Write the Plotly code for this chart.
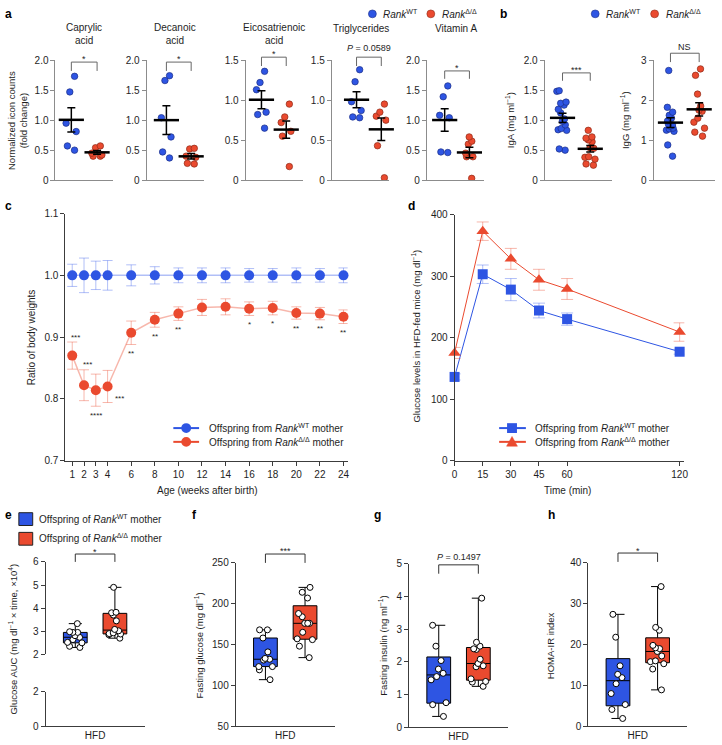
import numpy as np
import plotly.graph_objects as go

W, H = 722, 745
FONT = "Liberation Sans, Arial, Helvetica, sans-serif"
BLUE = "#2e55e3"
RED = "#ea4a2f"
BLUE_EDGE = "#1d2f86"
RED_EDGE = "#8e2b18"
BLUE_LIGHT = "rgba(60,95,235,0.40)"
RED_LIGHT = "rgba(234,74,47,0.40)"
GREY_AX = "#8c8c8c"
DARK_AX = "#3c3c3c"
TXT = "#1e1e1e"

# ---------------- data ----------------
groups = ["WT", "KO"]

caprylic_wt = [1.73, 1.47, 0.95, 0.81, 0.57, 0.50]
caprylic_ko = [0.57, 0.54, 0.45, 0.42, 0.40, 0.40]
decanoic_wt = [1.74, 1.66, 1.04, 0.72, 0.47, 0.37]
decanoic_ko = [0.53, 0.52, 0.40, 0.38, 0.28, 0.27]
eicosatrienoic_wt = [1.36, 1.22, 1.13, 0.85, 0.82, 0.65]
eicosatrienoic_ko = [0.95, 0.79, 0.72, 0.61, 0.55, 0.17]
triglycerides_wt = [1.38, 1.23, 0.98, 0.87, 0.79, 0.78]
triglycerides_ko = [0.95, 0.85, 0.80, 0.75, 0.43, 0.03]
vitamin_a_wt = [1.57, 1.39, 1.08, 1.04, 0.47, 0.46]
vitamin_a_ko = [0.72, 0.65, 0.60, 0.45, 0.39, 0.39, 0.03]

iga_wt = [1.49, 1.48, 1.30, 1.28, 1.25, 1.18, 1.12, 1.02, 0.98, 0.92, 0.86, 0.84, 0.83, 0.52, 0.50]
iga_ko = [0.83, 0.72, 0.70, 0.67, 0.64, 0.54, 0.53, 0.39, 0.38, 0.35, 0.27, 0.25]
igg_wt = [2.74, 1.82, 1.70, 1.62, 1.55, 1.48, 1.40, 1.38, 1.35, 1.30, 1.28, 1.25, 1.22, 0.88, 0.60]
igg_ko = [2.78, 2.62, 2.15, 1.85, 1.75, 1.72, 1.55, 1.45, 1.30, 1.20, 1.10]

weeks = [1, 2, 3, 4, 6, 8, 10, 12, 14, 16, 18, 20, 22, 24]
ratio_wt = [1.0, 1.0, 1.0, 1.0, 1.0, 1.0, 1.0, 1.0, 1.0, 1.0, 1.0, 1.0, 1.0, 1.0]
ratio_wt_sem = [0.018, 0.028, 0.023, 0.024, 0.017, 0.014, 0.012, 0.012, 0.012, 0.011, 0.011, 0.012, 0.011, 0.012]
ratio_ko = [0.870, 0.822, 0.814, 0.820, 0.907, 0.928, 0.938, 0.948, 0.949, 0.946, 0.947, 0.939, 0.938, 0.933]
ratio_ko_sem = [0.022, 0.025, 0.026, 0.026, 0.019, 0.012, 0.011, 0.013, 0.013, 0.011, 0.011, 0.010, 0.010, 0.011]
ratio_stars = ["***", "***", "****", "***", "**", "**", "**", "", "", "*", "*", "**", "**", "**"]
c_yticks = [0.7, 0.8, 0.9, 1.0, 1.1]

time_min = [0, 15, 30, 45, 60, 120]
glucose_wt = [136, 303, 278, 244, 230, 177]
glucose_wt_sem = [5, 15, 18, 12, 10, 4]
glucose_ko = [175, 373, 328, 294, 279, 209]
glucose_ko_sem = [9, 15, 17, 17, 17, 15]
d_yticks = [0, 100, 200, 300, 400]

auc_wt = [3.33, 2.98, 2.95, 2.95, 2.81, 2.74, 2.64, 2.52, 2.50, 2.35, 2.30]
auc_ko = [4.90, 3.82, 3.80, 3.70, 3.45, 3.08, 3.02, 2.93, 2.90, 2.88, 2.85, 2.70]
fglu_wt = [168, 168, 158, 141, 133, 132, 131, 123, 123, 119, 107]
fglu_ko = [220, 214, 207, 188, 184, 176, 176, 176, 165, 157, 156, 148, 134]
fins_wt = [3.12, 2.48, 2.04, 1.78, 1.65, 1.55, 1.45, 0.75, 0.69, 0.33]
fins_ko = [3.95, 2.60, 2.48, 2.40, 2.38, 2.08, 1.95, 1.88, 1.85, 1.48, 1.40, 1.38, 1.25]
homa_wt = [27.4, 21.8, 14.8, 12.7, 11.9, 10.4, 8.0, 5.3, 4.1, 1.9]
homa_ko = [34.2, 24.2, 23.5, 19.8, 19.2, 19.0, 18.3, 17.2, 16.0, 15.8, 15.3, 14.0, 8.9]
diet = ["HFD"]

WT_SUP = "<i>Rank</i><sup>WT</sup>"
KO_SUP = "<i>Rank</i><sup>Δ/Δ</sup>"

# ---------------- helpers ----------------
def X(p):
    return p / W


def Y(p):
    return 1 - p / H


fig = go.Figure()
ann, shp, lay = [], [], {}


def note(x, y, s, size=10, xa="center", ya="middle", angle=0, color=TXT):
    ann.append(dict(x=X(x), y=Y(y), xref="paper", yref="paper", text=s, showarrow=False,
                    xanchor=xa, yanchor=ya, textangle=angle,
                    font=dict(family=FONT, size=size, color=color)))


def bracket(x0, x1, top, bot, color):
    shp.append(dict(type="path", xref="paper", yref="paper",
                    path=f"M {X(x0)} {Y(bot)} L {X(x0)} {Y(top)} L {X(x1)} {Y(top)} L {X(x1)} {Y(bot)}",
                    line=dict(color=color, width=1)))


def dot(x, y, r, color, edge, lw=0.6):
    shp.append(dict(type="circle", xref="paper", yref="paper",
                    x0=X(x - r), x1=X(x + r), y0=Y(y + r), y1=Y(y - r),
                    fillcolor=color, line=dict(color=edge, width=lw)))


def rect(x0, x1, y0, y1, color, edge, lw=1):
    shp.append(dict(type="rect", xref="paper", yref="paper",
                    x0=X(x0), x1=X(x1), y0=Y(y1), y1=Y(y0),
                    fillcolor=color, line=dict(color=edge, width=lw)))


def hline(x0, x1, y, color, lw=2):
    shp.append(dict(type="line", xref="paper", yref="paper",
                    x0=X(x0), x1=X(x1), y0=Y(y), y1=Y(y), line=dict(color=color, width=lw)))


def tri(x, y, r, color):
    shp.append(dict(type="path", xref="paper", yref="paper",
                    path=f"M {X(x - r)} {Y(y + r * 0.8)} L {X(x + r)} {Y(y + r * 0.8)} L {X(x)} {Y(y - r)} Z",
                    fillcolor=color, line=dict(color=color, width=0.5)))


def axkeys(i):
    s = "" if i == 1 else str(i)
    return "xaxis" + s, "yaxis" + s, "x" + s, "y" + s


def base_axis(color):
    return dict(showline=True, linecolor=color, linewidth=1, ticks="outside", ticklen=4,
                tickwidth=1, tickcolor=color, showgrid=False, zeroline=False,
                tickfont=dict(family=FONT, size=10, color=TXT))


def fmt(v, dec):
    return "0" if v == 0 else f"{v:.{dec}f}"


def sem(v):
    return float(np.std(v, ddof=1) / np.sqrt(len(v)))


# ---------------- panels a & b ----------------
ab_panels = [
    dict(title="Caprylic<br>acid", wt=caprylic_wt, ko=caprylic_ko, ax=53, pw=69, pk=95, w=58,
         ymax=2.0, dt=0.5, dec=1, sig="*", sig_y=54, br=(57, 66), ty=28.5),
    dict(title="Decanoic<br>acid", wt=decanoic_wt, ko=decanoic_ko, ax=145, pw=165, pk=190, w=58,
         ymax=2.0, dt=0.5, dec=1, sig="*", sig_y=54, br=(57, 66), ty=28.5),
    dict(title="Eicosatrienoic<br>acid", wt=eicosatrienoic_wt, ko=eicosatrienoic_ko, ax=245, pw=261,
         pk=286, w=58, ymax=1.5, dt=0.5, dec=1, sig="*", sig_y=49, br=(52, 61), ty=28.5),
    dict(title="Triglycerides", wt=triglycerides_wt, ko=triglycerides_ko, ax=332, pw=357, pk=382, w=58,
         ymax=1.5, dt=0.5, dec=1, sig="<i>P</i> = 0.0589", sig_y=43, br=(52, 61), ty=23),
    dict(title="Vitamin A", wt=vitamin_a_wt, ko=vitamin_a_ko, ax=428, pw=446, pk=471, w=58,
         ymax=2.0, dt=0.5, dec=1, sig="*", sig_y=63, br=(66, 74), ty=23),
    dict(title=None, wt=iga_wt, ko=iga_ko, ax=547, pw=565, pk=593, w=68, ymax=2.0, dt=0.5, dec=1,
         sig="***", sig_y=65, br=(68, 76), ytitle="IgA (mg ml<sup>−1</sup>)", ytx=512),
    dict(title=None, wt=igg_wt, ko=igg_ko, ax=657, pw=674, pk=703, w=62, ymax=3.0, dt=1.0, dec=0,
         sig="NS", sig_y=42, br=(48, 57), ytitle="IgG (mg ml<sup>−1</sup>)", ytx=628),
]

for i, p in enumerate(ab_panels, start=1):
    xk, yk, xa, ya = axkeys(i)
    sp = p["pk"] - p["pw"]
    left = -(p["pw"] - p["ax"]) / sp
    right = left + p["w"] / sp
    xd = base_axis(GREY_AX)
    xd.update(domain=[X(p["ax"]), X(p["ax"] + p["w"])], range=[left, right], type="category",
              categoryorder="array", categoryarray=groups, anchor=ya, ticks="", showticklabels=False)
    nt = int(round(p["ymax"] / p["dt"]))
    tv = [round(k * p["dt"], 3) for k in range(nt + 1)]
    yd = base_axis(GREY_AX)
    yd.update(domain=[Y(177), Y(55)], range=[0, p["ymax"]], anchor=xa, tickvals=tv,
              ticktext=[fmt(v, p["dec"]) for v in tv])
    lay[xk] = xd
    lay[yk] = yd
    for g, vals, col, edge in ((groups[0], p["wt"], BLUE, BLUE_EDGE), (groups[1], p["ko"], RED, RED_EDGE)):
        fig.add_trace(go.Box(x=[g] * len(vals), y=vals, xaxis=xa, yaxis=ya, boxpoints="all", jitter=1.0,
                             pointpos=0, offsetgroup="pts", fillcolor="rgba(0,0,0,0)",
                             line=dict(width=0, color="rgba(0,0,0,0)"),
                             marker=dict(color=col, size=6.5, line=dict(color=edge, width=0.7)),
                             showlegend=False, hoverinfo="skip"))
    fig.add_trace(go.Scatter(x=groups, y=[float(np.mean(p["wt"])), float(np.mean(p["ko"]))],
                             xaxis=xa, yaxis=ya, mode="markers",
                             marker=dict(symbol="line-ew", size=18, line=dict(color="black", width=2.5)),
                             error_y=dict(type="data", array=[sem(p["wt"]), sem(p["ko"])], color="black",
                                          thickness=1.5, width=4),
                             showlegend=False, hoverinfo="skip", cliponaxis=False))
    if p["title"]:
        note(p["ax"] + 29, p["ty"], p["title"], size=10)
    if p.get("ytitle"):
        note(p["ytx"], 116, p["ytitle"], size=9.5, angle=-90)
    bracket(p["pw"], p["pk"], p["br"][0], p["br"][1], "#666666")
    note((p["pw"] + p["pk"]) / 2, p["sig_y"], p["sig"], size=9)

note(14, 116, "Normalized icon counts<br>(fold change)", size=9.5, angle=-90)

# legends of a and b
dot(373, 8, 4, BLUE, BLUE_EDGE)
note(382, 8, WT_SUP, size=10, xa="left")
dot(432, 8, 4, RED, RED_EDGE)
note(441, 8, KO_SUP, size=10, xa="left")
dot(598, 8, 4, BLUE, BLUE_EDGE)
note(607, 8, WT_SUP, size=10, xa="left")
dot(658, 8, 4, RED, RED_EDGE)
note(667, 8, KO_SUP, size=10, xa="left")

# ---------------- panel c ----------------
xk, yk, xa, ya = axkeys(8)
xd = base_axis(DARK_AX)
xd.update(domain=[X(63), X(348)], range=[0.42, 24.35], tickvals=weeks, anchor=ya)
yd = base_axis(DARK_AX)
yd.update(domain=[Y(462), Y(211)], range=[0.7, 1.1], tickvals=c_yticks,
          ticktext=[f"{v:.1f}" for v in c_yticks], anchor=xa)
lay[xk], lay[yk] = xd, yd
fig.add_trace(go.Scatter(x=weeks, y=ratio_wt, xaxis=xa, yaxis=ya, mode="lines+markers",
                         line=dict(color=BLUE_LIGHT, width=1.5), marker=dict(color=BLUE, size=10),
                         error_y=dict(type="data", array=ratio_wt_sem, color=BLUE_LIGHT, thickness=1, width=5),
                         showlegend=False, cliponaxis=False, hoverinfo="skip"))
fig.add_trace(go.Scatter(x=weeks, y=ratio_ko, xaxis=xa, yaxis=ya, mode="lines+markers",
                         line=dict(color=RED_LIGHT, width=1.5), marker=dict(color=RED, size=10),
                         error_y=dict(type="data", array=ratio_ko_sem, color=RED_LIGHT, thickness=1, width=5),
                         showlegend=False, cliponaxis=False, hoverinfo="skip"))
for k, (wk, v, e, s) in enumerate(zip(weeks, ratio_ko, ratio_ko_sem, ratio_stars)):
    if not s:
        continue
    if k < 2:
        yy, ys, xs = v + e, 5, 3
    elif k == 3:
        yy, ys, xs = v, -12, 12
    else:
        yy, ys, xs = v - e, -9, 0
    ann.append(dict(x=wk, y=yy, xref=xa, yref=ya, text=s, showarrow=False, xshift=xs, yshift=ys,
                    font=dict(family=FONT, size=8, color=TXT)))
note(29, 337, "Ratio of body weights", size=10, angle=-90)
note(206, 492, "Age (weeks after birth)", size=10)
# legend c
hline(172, 198, 429, BLUE)
dot(185, 429, 5, BLUE, BLUE, 0)
note(206, 429, "Offspring from " + WT_SUP + " mother", size=10, xa="left")
hline(172, 198, 443, RED)
dot(185, 443, 5, RED, RED, 0)
note(206, 443, "Offspring from " + KO_SUP + " mother", size=10, xa="left")

# ---------------- panel d ----------------
xk, yk, xa, ya = axkeys(9)
xd = base_axis(DARK_AX)
xd.update(domain=[X(456), X(688)], range=[0, 122.5], tickvals=time_min, anchor=ya)
yd = base_axis(DARK_AX)
yd.update(domain=[Y(462), Y(212)], range=[0, 400], tickvals=d_yticks, anchor=xa)
lay[xk], lay[yk] = xd, yd
fig.add_trace(go.Scatter(x=time_min, y=glucose_wt, xaxis=xa, yaxis=ya, mode="lines+markers",
                         line=dict(color=BLUE, width=1), marker=dict(color=BLUE, size=10, symbol="square"),
                         error_y=dict(type="data", array=glucose_wt_sem, color=BLUE_LIGHT, thickness=1, width=6),
                         showlegend=False, cliponaxis=False, hoverinfo="skip"))
fig.add_trace(go.Scatter(x=time_min, y=glucose_ko, xaxis=xa, yaxis=ya, mode="lines+markers",
                         line=dict(color=RED, width=1), marker=dict(color=RED, size=11, symbol="triangle-up"),
                         error_y=dict(type="data", array=glucose_ko_sem, color=RED_LIGHT, thickness=1, width=6),
                         showlegend=False, cliponaxis=False, hoverinfo="skip"))
note(417, 335, "Glucose levels in HFD-fed mice (mg dl<sup>−1</sup>)", size=9.5, angle=-90)
note(570, 492, "Time (min)", size=10)
# legend d
hline(501, 528, 429, BLUE)
rect(509, 519, 424, 434, BLUE, BLUE, 0)
note(535, 429, "Offspring from " + WT_SUP + " mother", size=10, xa="left")
hline(501, 528, 443, RED)
tri(514, 443, 5.5, RED)
note(535, 443, "Offspring from " + KO_SUP + " mother", size=10, xa="left")

# ---------------- panels e-h ----------------
eh_panels = [
    dict(wt=auc_wt, ko=auc_ko, ax=43, top=565, bot=659, rng=[2, 6], ticks=[2, 3, 4, 5, 6],
         sig="*", sig_y=555, br=(557, 565), ytitle="Glucose AUC (mg dl<sup>−1</sup> × time, ×10<sup>4</sup>)",
         tx=10, ty=643),
    dict(wt=fglu_wt, ko=fglu_ko, ax=235, top=566, bot=732, rng=[50, 250], ticks=[50, 100, 150, 200, 250],
         sig="***", sig_y=554, br=(557, 566), ytitle="Fasting glucose (mg dl<sup>−1</sup>)", tx=197, ty=650),
    dict(wt=fins_wt, ko=fins_ko, ax=410, top=567, bot=733, rng=[0, 5], ticks=[0, 1, 2, 3, 4, 5],
         sig="<i>P</i> = 0.1497", sig_y=560, br=(568, 577), ytitle="Fasting insulin (ng ml<sup>−1</sup>)",
         tx=383, ty=650),
    dict(wt=homa_wt, ko=homa_ko, ax=591, top=566, bot=732, rng=[0, 40], ticks=[0, 10, 20, 30, 40],
         sig="*", sig_y=554, br=(556, 565), ytitle="HOMA-IR index", tx=553, ty=650),
]

yi = 10
xi = 10
for n, p in enumerate(eh_panels):
    xk, _, xa, _ = axkeys(xi)
    _, yk, _, ya = axkeys(yi)
    yd = base_axis(DARK_AX)
    yd.update(domain=[Y(p["bot"]), Y(p["top"])], range=p["rng"], tickvals=p["ticks"], anchor=xa)
    lay[yk] = yd
    x_anchor = ya
    if n == 0:
        _, yk2, _, ya2 = axkeys(yi + 1)
        yd2 = base_axis(DARK_AX)
        yd2.update(domain=[Y(732), Y(697)], range=[0, 2], tickvals=[0, 2], anchor=xa)
        lay[yk2] = yd2
        x_anchor = ya2
        # empty trace so that the lower (broken) axis segment gets its own subplot
        fig.add_trace(go.Scatter(x=[], y=[], xaxis=xa, yaxis=ya2, showlegend=False, hoverinfo="skip"))
    xd = base_axis(DARK_AX)
    xd.update(domain=[X(p["ax"]), X(p["ax"] + 100)], range=[-0.5, 0.5], type="category", anchor=x_anchor,
              ticks="", tickfont=dict(family=FONT, size=10, color=TXT))
    lay[xk] = xd
    for grp, vals, col in (("wt", p["wt"], BLUE), ("ko", p["ko"], RED)):
        q1, med, q3 = np.percentile(vals, [25, 50, 75], method="weibull")
        fig.add_trace(go.Box(x=diet, q1=[q1], median=[med], q3=[q3], lowerfence=[min(vals)],
                             upperfence=[max(vals)], xaxis=xa, yaxis=ya, offsetgroup=grp,
                             fillcolor=col, line=dict(color="black", width=1), whiskerwidth=0.55,
                             showlegend=False, hoverinfo="skip"))
    for grp, vals in (("wt", p["wt"]), ("ko", p["ko"])):
        fig.add_trace(go.Box(x=diet * len(vals), y=vals, xaxis=xa, yaxis=ya, offsetgroup=grp,
                             boxpoints="all", jitter=0.8, pointpos=0, fillcolor="rgba(0,0,0,0)",
                             line=dict(width=0, color="rgba(0,0,0,0)"),
                             marker=dict(color="white", size=6, line=dict(color="black", width=1)),
                             showlegend=False, hoverinfo="skip"))
    bracket(p["ax"] + 30, p["ax"] + 70, p["br"][0], p["br"][1], "#333333")
    note(p["ax"] + 50, p["sig_y"], p["sig"], size=9)
    note(p["tx"], p["ty"], p["ytitle"], size=9.5, angle=-90)
    xi += 1
    yi += 2 if n == 0 else 1

# legend e
rect(16, 30, 515, 528, BLUE, "#222222")
note(34, 521, "Offspring of " + WT_SUP + " mother", size=10, xa="left")
rect(16, 30, 535, 548, RED, "#222222")
note(34, 541, "Offspring of " + KO_SUP + " mother", size=10, xa="left")

# ---------------- panel letters ----------------
for letter, lx, ly in (("a", 6, 8), ("b", 505, 8), ("c", 6, 203), ("d", 413, 203),
                       ("e", 6, 517), ("f", 193, 517), ("g", 378, 517), ("h", 554, 517)):
    note(lx, ly, f"<b>{letter}</b>", size=12, color="black")

fig.update_layout(width=W, height=H, margin=dict(l=0, r=0, t=0, b=0), autosize=False,
                  paper_bgcolor="white", plot_bgcolor="white", font=dict(family=FONT, size=10, color=TXT),
                  boxmode="group", boxgap=0.2, boxgroupgap=0.4, hovermode=False, showlegend=False,
                  annotations=ann, shapes=shp, **lay)
fig.write_html("out.html", config={"displayModeBar": False, "staticPlot": True},
               post_script="document.body.style.margin='0px';document.body.style.overflow='hidden';")
